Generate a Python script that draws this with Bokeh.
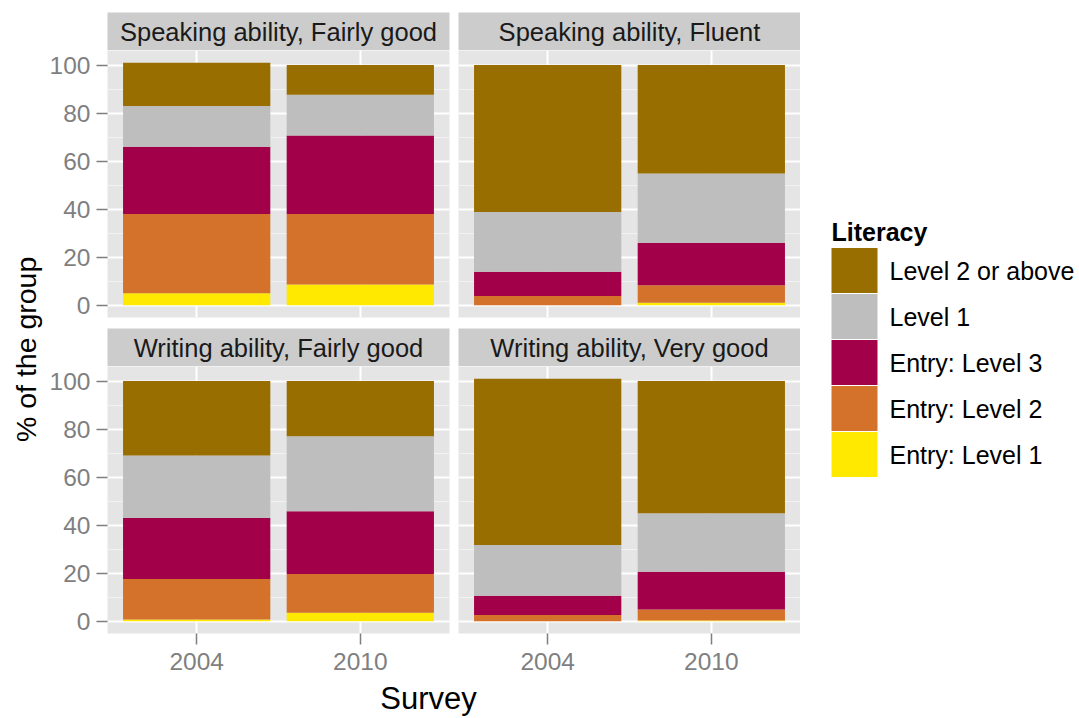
import math
from bokeh.plotting import figure
from bokeh.layouts import row, column
from bokeh.models import (FactorRange, Range1d, SingleIntervalTicker, Label,
                          ColumnDataSource)
from bokeh.core.properties import value
from bokeh.embed import file_html
from bokeh.resources import INLINE

# ---------------- data ----------------
surveys = ["2004", "2010"]
panels = ["Speaking ability, Fairly good", "Speaking ability, Fluent",
          "Writing ability, Fairly good", "Writing ability, Very good"]
levels = ["Entry: Level 1", "Entry: Level 2", "Entry: Level 3",
          "Level 1", "Level 2 or above"]
colors = ["#FFE900", "#D4712A", "#A3004A", "#BEBEBE", "#996E00"]

# values ordered as [panel1-2004, panel1-2010, panel2-2004, panel2-2010, ...]
entry_level_1 = [5.0, 8.7, 0.0, 1.1, 0.8, 3.6, 0.0, 0.4]
entry_level_2 = [33.0, 29.3, 3.9, 7.3, 16.8, 16.1, 2.6, 4.5]
entry_level_3 = [28.0, 32.7, 10.1, 17.6, 25.4, 26.1, 8.1, 15.7]
level_1 = [17.0, 16.9, 24.9, 28.9, 26.0, 31.2, 21.1, 24.4]
level_2_or_above = [18.0, 12.4, 61.1, 45.1, 31.0, 23.0, 69.2, 55.0]
series = [entry_level_1, entry_level_2, entry_level_3, level_1, level_2_or_above]

y_tick_labels = ["0", "20", "40", "60", "80", "100"]

FONT = "Liberation Sans"
BG = "#E5E5E5"
STRIP = "#CCCCCC"
GREY = "#7F7F7F"
FRAME_W = 342
FRAME_H = 267
Y_MAX = max(sum(s[k] for s in series) for k in range(len(entry_level_1)))
Y_PAD = Y_MAX * 0.05

BL, BR_L, BL_R = 62, 4, 5


def strip_fig(i, bl, br, bt):
    s = figure(width=bl + FRAME_W + br, height=38 + bt,
               x_range=Range1d(0, 1), y_range=Range1d(0, 1),
               min_border_left=bl, min_border_right=br, min_border_top=bt,
               min_border_bottom=0, background_fill_color=STRIP,
               outline_line_color=None, x_axis_location=None,
               y_axis_location=None, toolbar_location=None,
               output_backend="svg")
    s.grid.visible = False
    s.add_layout(Label(x=0.5, y=0.5, text=panels[i], text_align="center",
                       text_baseline="middle", text_font_size="25.5px",
                       text_font=FONT, text_color="#1A1A1A"))
    return s


def panel_fig(i, bl, br, bb, show_x, show_y):
    data = dict(survey=surveys)
    for lvl, vals in zip(levels, series):
        data[lvl] = vals[2 * i:2 * i + 2]
    src = ColumnDataSource(data)
    p = figure(width=bl + FRAME_W + br, height=FRAME_H + bb,
               x_range=FactorRange(factors=surveys, range_padding=0.045),
               y_range=Range1d(-Y_PAD, Y_MAX + Y_PAD),
               min_border_left=bl, min_border_right=br, min_border_top=0,
               min_border_bottom=bb, background_fill_color=BG,
               border_fill_color="white",
               outline_line_color=None,
               x_axis_location="below" if show_x else None,
               y_axis_location="left" if show_y else None,
               toolbar_location=None, output_backend="svg")
    ticker = SingleIntervalTicker(interval=20, num_minor_ticks=2)
    p.ygrid.ticker = ticker
    p.ygrid.grid_line_color = "white"
    p.ygrid.grid_line_width = 2
    p.ygrid.minor_grid_line_color = "#F2F2F2"
    p.ygrid.minor_grid_line_width = 1
    p.xgrid.grid_line_color = "white"
    p.xgrid.grid_line_width = 2
    p.vbar_stack(levels, x="survey", width=0.9, fill_color=colors,
                 line_color=None, source=src)
    for ax in p.axis:
        ax.axis_line_color = None
        ax.major_tick_in = 0
        ax.major_tick_out = 11
        ax.major_tick_line_color = GREY
        ax.major_tick_line_width = 1.5
        ax.minor_tick_line_color = None
        ax.major_label_text_font = FONT
        ax.major_label_text_font_size = "24.5px"
        ax.major_label_text_color = GREY
        ax.major_label_standoff = 6
    if show_x:
        p.xaxis.major_label_standoff = 8
    if show_y:
        p.yaxis.ticker = ticker
        p.yaxis.major_label_overrides = {20 * k: t for k, t in enumerate(y_tick_labels)}
    return p


s_tl = strip_fig(0, BL, BR_L, 12)
s_tr = strip_fig(1, BL_R, 0, 12)
p_tl = panel_fig(0, BL, BR_L, 11, False, True)
p_tr = panel_fig(1, BL_R, 0, 11, False, False)
s_bl = strip_fig(2, BL, BR_L, 0)
s_br = strip_fig(3, BL_R, 0, 0)
p_bl = panel_fig(2, BL, BR_L, 46, True, True)
p_br = panel_fig(3, BL_R, 0, 46, True, False)

YLAB_W = 45
GRID_W = (BL + FRAME_W + BR_L) + (BL_R + FRAME_W)

# x axis title
xlab = figure(width=GRID_W, height=39, x_range=Range1d(0, 1), y_range=Range1d(0, 1),
              min_border=0, outline_line_color=None, x_axis_location=None,
              y_axis_location=None, toolbar_location=None, output_backend="svg")
xlab.grid.visible = False
xlab.add_layout(Label(x=(428 - YLAB_W) / GRID_W, y=0.52, text="Survey",
                      text_align="center", text_baseline="middle",
                      text_font_size="31px", text_font=FONT, text_color="black"))

# y axis title
ylab = figure(width=YLAB_W, height=718, x_range=Range1d(0, 1), y_range=Range1d(0, 1),
              min_border=0, outline_line_color=None, x_axis_location=None,
              y_axis_location=None, toolbar_location=None, output_backend="svg")
ylab.grid.visible = False
ylab.add_layout(Label(x=25 / YLAB_W, y=(718 - 318) / 718, text="% of the group",
                      angle=math.pi / 2, text_align="center",
                      text_baseline="middle", text_font_size="28.5px",
                      text_font=FONT, text_color="black"))

# legend (drawn as keys on a categorical scale)
LEG_W = 1079 - YLAB_W - GRID_W
lsrc = ColumnDataSource(dict(level=levels, color=colors))
key_px = 46.0
x0 = 831 - (YLAB_W + GRID_W)
lf = figure(width=LEG_W, height=718, title="Literacy",
            x_range=Range1d(-x0 / key_px, (LEG_W - x0) / key_px),
            y_range=FactorRange(factors=levels, range_padding=0),
            min_border_left=0, min_border_right=0,
            min_border_top=247, min_border_bottom=718 - 477,
            outline_line_color=None, x_axis_location=None,
            y_axis_location=None, toolbar_location=None, output_backend="svg")
lf.grid.visible = False
lf.title.text_font = FONT
lf.title.text_font_size = "25px"
lf.title.text_font_style = "bold"
lf.title.text_color = "black"
lf.title.align = "left"
lf.title.offset = x0
lf.title.standoff = 4
lf.hbar(y="level", left=0, right=1, height=0.975, fill_color="color",
        line_color=None, source=lsrc)
lf.text(x=(889 - 831) / key_px, y="level", text="level", source=lsrc,
        text_font=value(FONT), text_font_size=value("25px"),
        text_baseline="middle", text_align="left", text_color="black")

grid = column(row(s_tl, s_tr), row(p_tl, p_tr), row(s_bl, s_br),
              row(p_bl, p_br), xlab)
layout = row(ylab, grid, lf)

open("out.html", "w").write(file_html(layout, INLINE))
